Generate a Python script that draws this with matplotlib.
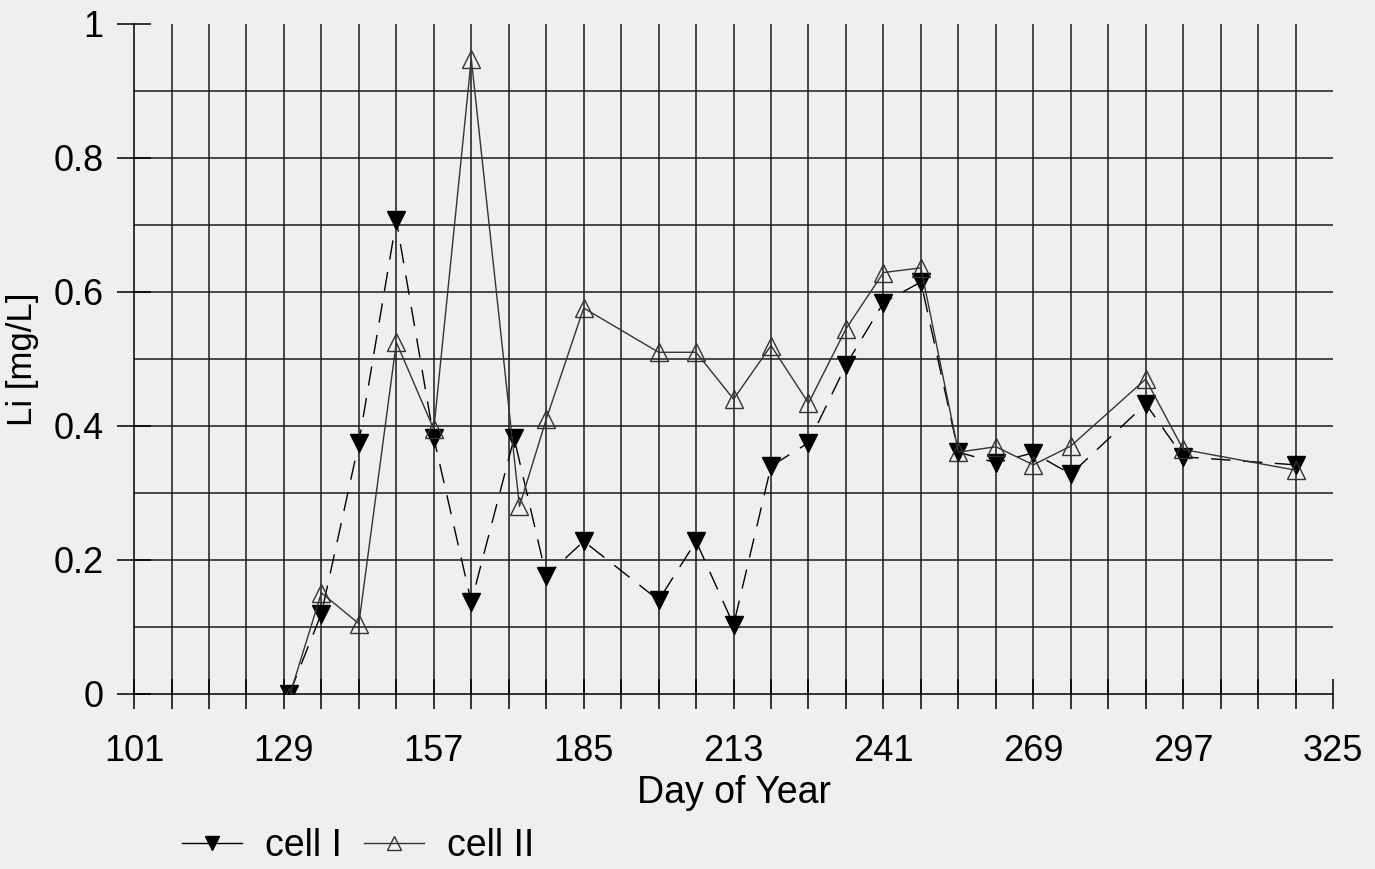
import numpy as np
import matplotlib.pyplot as plt
from matplotlib.ticker import FixedLocator
from matplotlib.legend_handler import HandlerLine2D

plt.rcParams['font.family'] = ['Liberation Sans', 'DejaVu Sans']

#sampling days and Li concentrations
days_cell1 = [130, 136, 143, 150, 157, 164, 172, 178, 185, 199, 206, 213, 220,
              227, 234, 241, 248, 255, 262, 269, 276, 290, 297, 318]
li_cell1 = [0.0, 0.12, 0.375, 0.707, 0.382, 0.137, 0.382, 0.176, 0.228, 0.14, 0.228, 0.103, 0.34,
            0.375, 0.491, 0.584, 0.615, 0.361, 0.345, 0.36, 0.328, 0.433, 0.354, 0.342]

days_cell2 = [130, 136, 143, 150, 157, 164, 173, 178, 185, 199, 206, 213, 220,
              227, 234, 241, 248, 255, 262, 269, 276, 290, 297, 318]
li_cell2 = [-0.004, 0.151, 0.105, 0.525, 0.395, 0.948, 0.28, 0.41, 0.576, 0.51, 0.51, 0.44, 0.52,
            0.434, 0.545, 0.629, 0.636, 0.361, 0.369, 0.342, 0.37, 0.47, 0.365, 0.334]

x_major = [101, 129, 157, 185, 213, 241, 269, 297, 325]
x_minor = [d for d in range(108, 325, 7) if d not in x_major]
y_major = [0, 0.2, 0.4, 0.6, 0.8, 1]
y_labels = ['0', '0.2', '0.4', '0.6', '0.8', '1']

bg = '#efeff1'
fig = plt.figure(figsize=(13.75, 8.69), dpi=100, facecolor=bg)
ax = fig.add_axes([0.0975, 0.2014, 0.872, 0.771], facecolor=bg)

#grid lines drawn by hand so the 325 and 1.0 lines stay off
ax.vlines(x_minor + x_major[1:-1], 0, 1, color='#1a1a1a', lw=1.1, zorder=1)
ax.hlines(np.arange(0.1, 0.95, 0.1), 101, 325, color='#1a1a1a', lw=1.1, zorder=1)

ax.plot(days_cell1, li_cell1, color='black', lw=1.0, dashes=(14, 9),
        marker='v', ms=13, mfc='black', mec='black', label='cell I', zorder=3)
ax.plot(days_cell2, li_cell2, color='#333333', lw=1.0,
        marker='^', ms=13, mfc='none', mec='#333333', mew=1.0, label='cell II', zorder=3)

ax.set_xlim(101, 325)
ax.set_ylim(0, 1)
for s in ['top', 'right']:
    ax.spines[s].set_visible(False)
ax.spines['left'].set_linewidth(1.1)
ax.spines['bottom'].set_linewidth(1.1)

ax.xaxis.set_major_locator(FixedLocator(x_major))
ax.xaxis.set_minor_locator(FixedLocator(x_minor))
ax.set_xticklabels([str(d) for d in x_major])
ax.set_yticks(y_major)
ax.set_yticklabels(y_labels)
ax.tick_params(axis='x', which='both', direction='inout', length=22, width=1.1, pad=18, labelsize=26)
ax.tick_params(axis='y', direction='inout', length=24, width=1.1, pad=10, labelsize=26)

ax.set_xlabel('Day of Year', fontsize=27, labelpad=4)
ax.set_ylabel('Li [mg/L]', fontsize=25, labelpad=10)


def solid_handle(legline, orig):
    legline.update_from(orig)
    legline.set_linestyle('-')


fig.legend(loc='center left', bbox_to_anchor=(0.108, 0.026), ncol=2, frameon=False,
           fontsize=27, handlelength=1.6, handletextpad=0.6, columnspacing=0.6, markerscale=0.75,
           handler_map={plt.Line2D: HandlerLine2D(update_func=solid_handle)})

fig.savefig('out.png', dpi=100, facecolor=bg)
